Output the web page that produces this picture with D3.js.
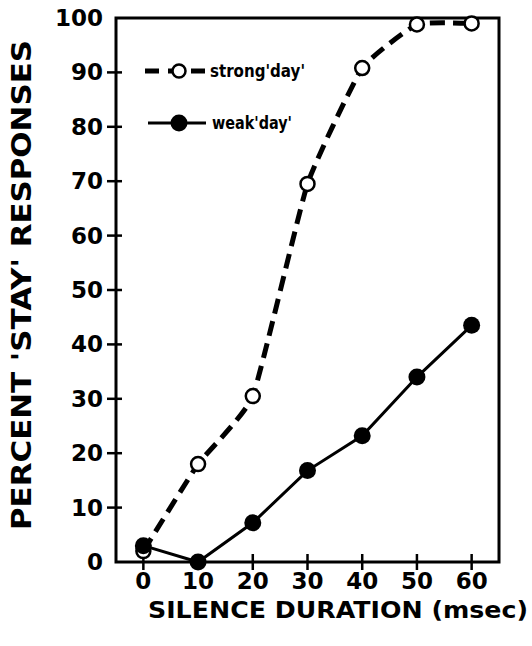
<!DOCTYPE html>
<html>
<head>
<meta charset="utf-8">
<script src="https://cdn.jsdelivr.net/npm/d3@7"></script>
<style>
  body { margin: 0; background: #fff; }
  text { font-family: "DejaVu Sans", sans-serif; font-weight: bold; fill: #000; }
</style>
</head>
<body>
<svg width="532" height="646"></svg>
<script>
// silence duration (msec)
var durations = [0, 10, 20, 30, 40, 50, 60];
var strongDay = [2, 18, 30.5, 69.5, 90.8, 98.8, 99];
var weakDay = [3, 0, 7.2, 16.8, 23.2, 34, 43.5];
var xTicks = [0, 10, 20, 30, 40, 50, 60];
var yTicks = [0, 10, 20, 30, 40, 50, 60, 70, 80, 90, 100];

var svg = d3.select("svg");

var x = d3.scaleLinear().domain([-5, 65]).range([116, 499]);
var y = d3.scaleLinear().domain([0, 100]).range([562, 18]);

// frame
svg.append("rect")
  .attr("x", x(-5)).attr("y", y(100))
  .attr("width", x(65) - x(-5)).attr("height", y(0) - y(100))
  .attr("fill", "none").attr("stroke", "#000").attr("stroke-width", 3);

// y ticks, crossing the left side
svg.append("g").selectAll("line")
  .data(yTicks.filter(function(d) { return d > 0 && d < 100; }))
  .enter().append("line")
  .attr("x1", x(-5) - 9).attr("x2", x(-5) + 6)
  .attr("y1", function(d) { return y(d); })
  .attr("y2", function(d) { return y(d); })
  .attr("stroke", "#000").attr("stroke-width", 2.5);

svg.append("g").selectAll("text")
  .data(yTicks)
  .enter().append("text")
  .attr("x", 103)
  .attr("y", function(d) { return y(d) + 8; })
  .attr("text-anchor", "end")
  .style("font-size", "23px")
  .text(function(d) { return d; });

// x ticks, crossing the bottom
svg.append("g").selectAll("line")
  .data(xTicks)
  .enter().append("line")
  .attr("x1", function(d) { return x(d); })
  .attr("x2", function(d) { return x(d); })
  .attr("y1", y(0) - 8).attr("y2", y(0) + 8)
  .attr("stroke", "#000").attr("stroke-width", 2.5);

svg.append("g").selectAll("text")
  .data(xTicks)
  .enter().append("text")
  .attr("x", function(d) { return x(d); })
  .attr("y", 589)
  .attr("text-anchor", "middle")
  .style("font-size", "23px")
  .text(function(d) { return d; });

// axis titles
svg.append("text")
  .attr("x", 148).attr("y", 618)
  .attr("textLength", 380).attr("lengthAdjust", "spacingAndGlyphs")
  .style("font-size", "23px")
  .text("SILENCE DURATION (msec)");

svg.append("text")
  .attr("transform", "translate(31,530) rotate(-90)")
  .attr("textLength", 490).attr("lengthAdjust", "spacingAndGlyphs")
  .style("font-size", "26px")
  .text("PERCENT 'STAY' RESPONSES");

// strong 'day' : dashed, gently smoothed, open circles
var strongLine = d3.line()
  .curve(d3.curveCardinal.tension(0.6))
  .x(function(d, i) { return x(durations[i]); })
  .y(function(d) { return y(d); });

svg.append("path")
  .datum(strongDay)
  .attr("d", strongLine)
  .attr("fill", "none").attr("stroke", "#000")
  .attr("stroke-width", 5).attr("stroke-dasharray", "15,8");

svg.append("g").selectAll("circle")
  .data(strongDay)
  .enter().append("circle")
  .attr("cx", function(d, i) { return x(durations[i]); })
  .attr("cy", function(d) { return y(d); })
  .attr("r", 7)
  .attr("fill", "#fff").attr("stroke", "#000").attr("stroke-width", 2.5);

// weak 'day' : solid line, filled circles
var weakLine = d3.line()
  .x(function(d, i) { return x(durations[i]); })
  .y(function(d) { return y(d); });

svg.append("path")
  .datum(weakDay)
  .attr("d", weakLine)
  .attr("fill", "none").attr("stroke", "#000").attr("stroke-width", 3);

svg.append("g").selectAll("circle")
  .data(weakDay)
  .enter().append("circle")
  .attr("cx", function(d, i) { return x(durations[i]); })
  .attr("cy", function(d) { return y(d); })
  .attr("r", 8.5)
  .attr("fill", "#000");

// legend
var legend = svg.append("g");
legend.append("line")
  .attr("x1", 145).attr("x2", 205).attr("y1", 71).attr("y2", 71)
  .attr("stroke", "#000").attr("stroke-width", 5).attr("stroke-dasharray", "14,9");
legend.append("circle")
  .attr("cx", 179).attr("cy", 71).attr("r", 6.5)
  .attr("fill", "#fff").attr("stroke", "#000").attr("stroke-width", 2.5);
legend.append("text")
  .attr("x", 210).attr("y", 77)
  .attr("textLength", 95).attr("lengthAdjust", "spacingAndGlyphs")
  .style("font-size", "18px")
  .text("strong'day'");

legend.append("line")
  .attr("x1", 148).attr("x2", 206).attr("y1", 123).attr("y2", 123)
  .attr("stroke", "#000").attr("stroke-width", 3);
legend.append("circle")
  .attr("cx", 179).attr("cy", 123).attr("r", 8.5)
  .attr("fill", "#000");
legend.append("text")
  .attr("x", 212).attr("y", 129)
  .attr("textLength", 80).attr("lengthAdjust", "spacingAndGlyphs")
  .style("font-size", "18px")
  .text("weak'day'");
</script>
</body>
</html>
